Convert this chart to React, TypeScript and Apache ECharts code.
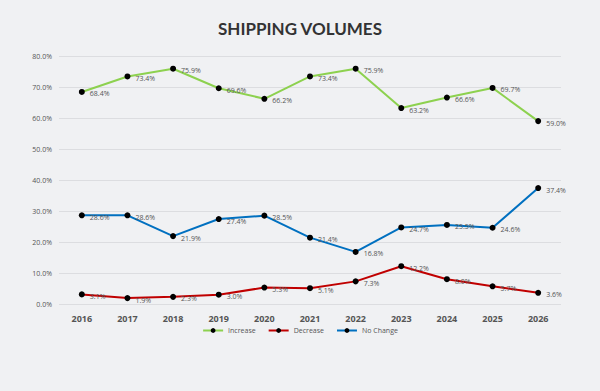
import React, { useEffect, useRef } from "react";
import * as echarts from "echarts";

const categories = ["2016", "2017", "2018", "2019", "2020", "2021", "2022", "2023", "2024", "2025", "2026"];
const increase = [68.4, 73.4, 75.9, 69.6, 66.2, 73.4, 75.9, 63.2, 66.6, 69.7, 59.0];
const decrease = [3.1, 1.9, 2.3, 3.0, 5.3, 5.1, 7.3, 12.2, 8.0, 5.7, 3.6];
const noChange = [28.6, 28.6, 21.9, 27.4, 28.5, 21.4, 16.8, 24.7, 25.5, 24.6, 37.4];
const seriesNames = ["Increase", "Decrease", "No Change"];
const colors = ["#8dd14f", "#c00000", "#0070c0"];

export default function App() {
  const ref = useRef<HTMLDivElement>(null);
  useEffect(() => {
    if (!ref.current) return;
    const chart = echarts.init(ref.current, undefined, { renderer: "svg" });
    const mk = (name: string, data: number[], color: string) => ({
      name,
      type: "line",
      data,
      symbol: "circle",
      symbolSize: 6,
      itemStyle: { color: "#000" },
      lineStyle: { color, width: 2 },
      label: {
        show: true,
        position: "right",
        offset: [0, 2],
        fontSize: 7,
        color: "#555",
        fontFamily: "Open Sans",
        formatter: (p: any) => p.value.toFixed(1) + "%",
      },
    });
    chart.setOption({
      animation: false,
      backgroundColor: "#f0f1f3",
      title: {
        text: "SHIPPING VOLUMES",
        left: "center",
        top: 15,
        textStyle: { fontSize: 17, fontWeight: "bold", color: "#333", fontFamily: "Lato" },
      },
      legend: {
        bottom: 52,
        left: "center",
        itemWidth: 20,
        itemHeight: 6,
        itemGap: 12,
        textStyle: { fontSize: 7, color: "#555", fontFamily: "Open Sans" },
        data: seriesNames,
      },
      grid: { left: 59, right: 39, top: 56, bottom: 87 },
      xAxis: {
        type: "category",
        data: categories,
        boundaryGap: true,
        axisLine: { show: false },
        axisTick: { show: false },
        axisLabel: { fontSize: 9, fontWeight: "bold", color: "#555", margin: 10, fontFamily: "Open Sans" },
      },
      yAxis: {
        type: "value",
        min: 0,
        max: 80,
        interval: 10,
        axisLine: { show: false },
        axisTick: { show: false },
        splitLine: { lineStyle: { color: "#dcdde0", width: 1 } },
        axisLabel: {
          fontSize: 7,
          color: "#555",
          margin: 7,
          fontFamily: "Open Sans",
          formatter: (v: number) => v.toFixed(1) + "%",
        },
      },
      series: [
        mk(seriesNames[0], increase, colors[0]),
        mk(seriesNames[1], decrease, colors[1]),
        mk(seriesNames[2], noChange, colors[2]),
      ],
    });
    return () => chart.dispose();
  }, []);
  return <div ref={ref} style={{ width: 600, height: 391, position: "fixed", left: 0, top: 0 }} />;
}
